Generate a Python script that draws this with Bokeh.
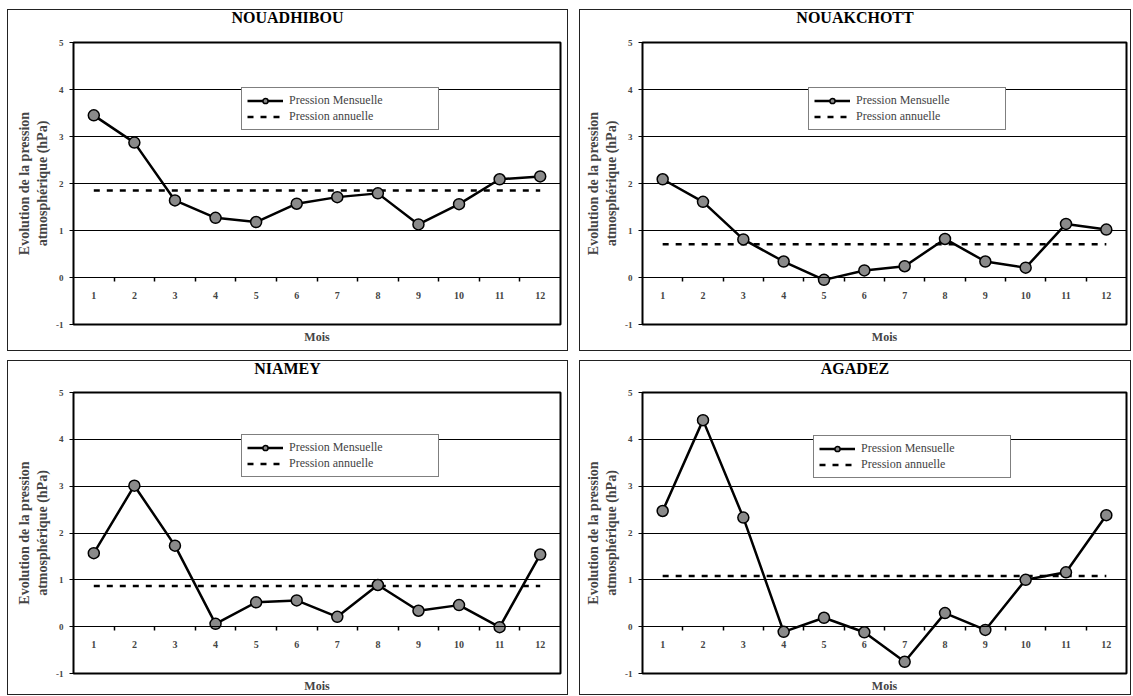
from bokeh.plotting import figure
from bokeh.models import FixedTicker, Legend, LegendItem, Title, Range1d, LinearAxis, Div
from bokeh.layouts import row, column
from bokeh.embed import file_html
from bokeh.resources import INLINE

months = list(range(1, 13))
y_ticks = [-1, 0, 1, 2, 3, 4, 5]
grid_ticks = [1, 2, 3, 4]

stations = ["NOUADHIBOU", "NOUAKCHOTT", "NIAMEY", "AGADEZ"]
nouadhibou = [3.45, 2.87, 1.64, 1.27, 1.18, 1.57, 1.71, 1.79, 1.13, 1.56, 2.09, 2.15]
nouadhibou_annual = 1.85
nouakchott = [2.09, 1.61, 0.81, 0.34, -0.05, 0.15, 0.24, 0.82, 0.34, 0.21, 1.14, 1.02]
nouakchott_annual = 0.71
niamey = [1.57, 3.01, 1.73, 0.06, 0.52, 0.56, 0.21, 0.89, 0.34, 0.46, -0.01, 1.54]
niamey_annual = 0.87
agadez = [2.47, 4.41, 2.33, -0.11, 0.19, -0.12, -0.75, 0.29, -0.07, 1.00, 1.16, 2.38]
agadez_annual = 1.08

legend_monthly = "Pression Mensuelle"
legend_annual = "Pression annuelle"
y_label = "Evolution de la pression\natmosphérique (hPa)"
x_label = "Mois"

SERIF = "Liberation Serif"
BORDER = "1px solid #222"
TITLE_H = 20


def make_panel(title, monthly, annual, width, height, mb, mois_standoff, leg_xy):
    mb_left, mb_right, mb_top, mb_bottom = mb

    head = Div(text=title, width=width, height=TITLE_H, margin=0,
               styles={"border-top": BORDER, "border-left": BORDER, "border-right": BORDER,
                       "text-align": "center", "font-family": SERIF, "font-weight": "bold",
                       "font-size": "16px", "line-height": "16px", "color": "black",
                       "background-color": "white", "box-sizing": "border-box"})

    p = figure(width=width, height=height - TITLE_H, output_backend="svg",
               toolbar_location=None,
               x_range=Range1d(months[0] - 0.5, months[-1] + 0.5),
               y_range=Range1d(y_ticks[0], y_ticks[-1]),
               min_border_left=mb_left, min_border_right=mb_right,
               min_border_top=mb_top, min_border_bottom=mb_bottom,
               background_fill_color="white", border_fill_color="white",
               styles={"border-bottom": BORDER, "border-left": BORDER, "border-right": BORDER})
    p.outline_line_color = "black"
    p.outline_line_width = 2
    p.outline_line_alpha = 1
    p.title.visible = False

    # x axis crossing at y=0: tick marks between months
    xa = p.xaxis[0]
    xa.fixed_location = 0
    xa.ticker = FixedTicker(ticks=[m + 0.5 for m in months[:-1]])
    xa.major_tick_in = 0
    xa.major_tick_out = 4
    xa.major_tick_line_color = "black"
    xa.major_tick_line_width = 1.5
    xa.minor_tick_line_color = None
    xa.axis_line_color = "black"
    xa.axis_line_width = 1.2
    xa.major_label_text_color = None

    # month labels, centred on each month
    xl = LinearAxis(fixed_location=0, ticker=FixedTicker(ticks=months))
    xl.axis_line_color = None
    xl.major_tick_line_color = None
    xl.minor_tick_line_color = None
    xl.major_label_text_font = SERIF
    xl.major_label_text_font_style = "bold"
    xl.major_label_text_font_size = "10px"
    xl.major_label_standoff = 8
    p.add_layout(xl, "below")

    p.add_layout(Title(text=x_label, align="center", text_font=SERIF, text_font_style="bold",
                       text_font_size="12px", standoff=mois_standoff), "below")

    # y axis
    ya = p.yaxis[0]
    ya.ticker = FixedTicker(ticks=y_ticks)
    ya.major_label_overrides = {t: str(t) for t in y_ticks}
    ya.axis_line_color = None
    ya.major_tick_in = 0
    ya.major_tick_out = 4
    ya.major_tick_line_color = "black"
    ya.minor_tick_line_color = None
    ya.major_label_text_font = SERIF
    ya.major_label_text_font_style = "bold"
    ya.major_label_text_font_size = "9px"
    ya.major_label_standoff = 6
    ya.axis_label = y_label
    ya.axis_label_text_font = SERIF
    ya.axis_label_text_font_style = "bold"
    ya.axis_label_text_font_size = "14px"
    ya.axis_label_standoff = 3

    p.xgrid.visible = False
    p.ygrid.ticker = FixedTicker(ticks=grid_ticks)
    p.ygrid.grid_line_color = "black"
    p.ygrid.grid_line_width = 1

    # annual mean line
    d = p.line([months[0], months[-1]], [annual, annual], line_color="black",
               line_width=2.5, line_dash="6 7")
    # monthly line
    l = p.line(months, monthly, line_color="black", line_width=2.5)
    s = p.scatter(months, monthly, size=11, fill_color="#8a8a8a", line_color="black",
                  line_width=1.5)

    legend = Legend(items=[LegendItem(label=legend_monthly, renderers=[l, s]),
                           LegendItem(label=legend_annual, renderers=[d])],
                    location=leg_xy)
    legend.border_line_color = "black"
    legend.border_line_width = 1
    legend.background_fill_color = "white"
    legend.background_fill_alpha = 1
    legend.label_text_font = SERIF
    legend.label_text_font_size = "12px"
    legend.glyph_width = 36
    legend.glyph_height = 13
    legend.label_standoff = 6
    legend.label_width = 144
    legend.label_height = 13
    legend.spacing = 1
    legend.padding = 5
    legend.margin = 0
    p.add_layout(legend)
    return column(head, p, spacing=0)


p1 = make_panel(stations[0], nouadhibou, nouadhibou_annual, 561, 342,
                (65, 9, 13, 27), 7, (168, 194))
p2 = make_panel(stations[1], nouakchott, nouakchott_annual, 552, 342,
                (62, 6, 13, 27), 7, (166, 194))
p3 = make_panel(stations[2], niamey, niamey_annual, 561, 335,
                (65, 9, 12, 22), 6, (168, 196))
p4 = make_panel(stations[3], agadez, agadez_annual, 552, 335,
                (62, 6, 12, 22), 6, (171, 195))

layout = column(row(p1, p2, spacing=11), row(p3, p4, spacing=11), spacing=9,
                margin=(9, 0, 0, 7))

open("out.html", "w").write(file_html(layout, INLINE))
